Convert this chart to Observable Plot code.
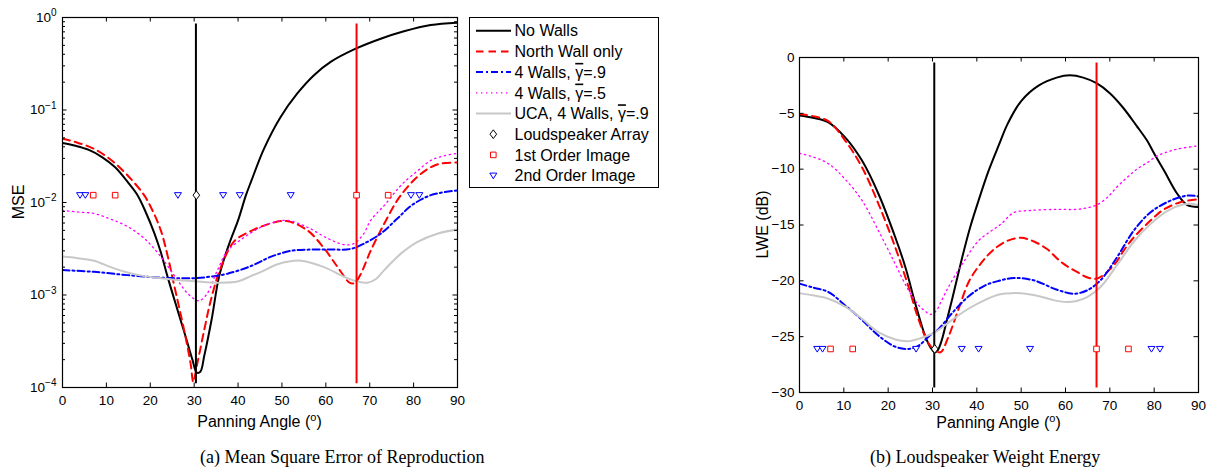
<!DOCTYPE html>
<html><head><meta charset="utf-8">
<script src="https://cdn.jsdelivr.net/npm/d3@7"></script>
<script src="https://cdn.jsdelivr.net/npm/@observablehq/plot@0.6"></script>
<style>
body{margin:0;background:#fff;}
#wrap{position:relative;width:1209px;height:468px;overflow:hidden;background:#fff;}
#wrap svg{position:absolute;max-width:none;}
</style></head><body><div id="wrap"></div>
<script>
// ---------- data ----------
const xTicks = [0,10,20,30,40,50,60,70,80,90];
const mseTicks = [1e-4,1e-3,1e-2,1e-1,1];
const lweTicks = [-30,-25,-20,-15,-10,-5,0];

// MSE panel (a)
const mseNoWallsAngle = [0,3,6,9,12,15,17.1,19,20.9,22.4,23.9,26.2,28.1,29.6,30.6,31.4,32.3,34,35.7,38,40,41.8,43,45.9,49.7,53.5,57.3,61.1,66.8,72.5,77.8,83.9,90];
const mseNoWalls = [0.044,0.041,0.037,0.031,0.024,0.0163,0.012,0.0078,0.0047,0.0029,0.0016,6.9e-4,3.5e-4,2.0e-4,1.45e-4,1.48e-4,2.2e-4,5.5e-4,1.6e-3,3.6e-3,6.4e-3,0.012,0.017,0.038,0.084,0.151,0.238,0.331,0.46,0.59,0.71,0.83,0.88];

const mseNorthAngle = [0,3,7.2,11,14.8,18.6,20.5,22.4,24,25.4,27.7,29.2,29.8,30.7,32.3,33.8,36.1,39.1,42.5,46.7,51,55.8,59.6,62.7,65.5,66.6,68,70.2,73.3,76.3,78.5,80.9,83.5,86.2,90];
const mseNorth = [0.049,0.045,0.038,0.029,0.0197,0.012,0.0082,0.005,0.0026,1.3e-3,4.2e-4,1.8e-4,1.15e-4,1.8e-4,4.2e-4,8.8e-4,2.0e-3,3.8e-3,4.8e-3,5.8e-3,6.3e-3,5.0e-3,3.2e-3,2.0e-3,1.35e-3,1.35e-3,1.7e-3,3.0e-3,5.9e-3,0.0106,0.0145,0.019,0.0235,0.0264,0.027];

const mseWalls9Angle = [0,7.2,14.8,22.4,30,33.8,37.6,42.9,47.4,52,56.5,61.1,65.7,68.7,72.5,76.3,79.4,83.9,90];
const mseWalls9 = [1.86e-3,1.78e-3,1.64e-3,1.54e-3,1.52e-3,1.58e-3,1.7e-3,2.05e-3,2.58e-3,3.0e-3,3.1e-3,3.1e-3,3.15e-3,3.6e-3,4.6e-3,6.7e-3,9.2e-3,0.012,0.0135];

const mseWalls5Angle = [0,3.5,7.2,11,14.8,18.6,22.4,26.2,28.5,30.7,31.5,33,35.3,37.6,41.4,45.2,48,51.3,55.8,60.4,64.2,66.4,68.5,70.2,72,73.5,75.5,77.5,80.9,83.9,87,90];
const mseWalls5 = [0.0082,0.0079,0.0076,0.0066,0.0055,0.0041,0.0026,1.45e-3,1.04e-3,8.7e-4,8.8e-4,1.04e-3,1.85e-3,3.0e-3,4.2e-3,5.4e-3,6.1e-3,6.4e-3,5.4e-3,4.1e-3,3.5e-3,3.6e-3,4.5e-3,6.4e-3,8.0e-3,0.0095,0.0125,0.016,0.022,0.0285,0.032,0.034];

const mseUcaAngle = [0,3.5,7.2,11,14.8,18.6,22.4,26,30,35.3,39.9,42.9,45.5,49,54.3,59.6,64.2,67.2,69.5,71.5,73.3,77.1,80.9,85.4,90];
const mseUca = [2.6e-3,2.5e-3,2.35e-3,2.0e-3,1.75e-3,1.6e-3,1.52e-3,1.45e-3,1.41e-3,1.36e-3,1.4e-3,1.6e-3,1.8e-3,2.15e-3,2.35e-3,2.0e-3,1.57e-3,1.4e-3,1.36e-3,1.5e-3,1.86e-3,2.8e-3,3.75e-3,4.6e-3,5.1e-3];

// LWE panel (b)
const lweNoWallsAngle = [0,3,6.5,10.3,14.1,17.8,21.6,23.9,26.1,28.4,29.6,30.5,31.2,32.1,33.2,34.4,36.7,38.5,40.4,42.6,44.9,47,50,54,58,61,64,67,70,73,76,78.4,80,82.2,85.2,87.4,90];
const lweNoWalls = [-5.2,-5.4,-5.8,-7.15,-9.23,-12.2,-16.1,-18.8,-22.0,-25.0,-26.0,-26.4,-26.2,-25.3,-23.6,-21.7,-17.9,-15.2,-12.8,-10.2,-7.9,-5.9,-3.9,-2.5,-1.8,-1.6,-1.8,-2.3,-3.2,-4.5,-6.1,-7.44,-8.6,-10.1,-12.2,-13.2,-13.4];

const lweNorthAngle = [0,3,6.5,10.3,14.1,17.8,21.6,24.6,26.9,29.1,30.5,31.8,33.6,35.9,38.3,41,43.8,47,50,53,56,58.1,60,62.6,65,67.1,69.4,71.5,73.1,75,77.6,80,82.2,85.9,90];
const lweNorth = [-5.06,-5.25,-5.7,-7.44,-9.83,-13.1,-17.0,-20.55,-23.5,-25.6,-26.2,-26.4,-25.0,-22.5,-20.0,-18.4,-17.2,-16.4,-16.15,-16.5,-17.2,-18.0,-18.6,-19.2,-19.7,-19.8,-19.2,-18.3,-17.3,-16.3,-15.2,-14.3,-13.6,-12.96,-12.7];

const lweWalls9Angle = [0,3,6.5,10.3,14.1,17.8,21.6,24.6,26.9,29.1,31.4,34.4,38.1,41.9,45,48.3,52.8,58.1,61.9,64.9,67.9,71.6,75.4,79.2,82.9,85.9,88,90];
const lweWalls9 = [-20.25,-20.6,-21.0,-22.2,-23.5,-24.9,-25.9,-26.1,-25.8,-25.0,-24.3,-22.9,-21.4,-20.4,-20.0,-19.75,-19.95,-20.8,-21.15,-20.85,-19.95,-17.9,-15.5,-13.85,-12.96,-12.5,-12.35,-12.45];

const lweWalls5Angle = [0,3,6.5,10.3,14.1,17.8,21.6,24.6,26.9,28,29.5,30.8,32,33.6,36.7,40.4,43,45.5,48.3,52.1,58.1,62.6,65,67.1,69.5,71.6,74,76.2,78.5,80.7,83,85.2,90];
const lweWalls5 = [-8.58,-8.9,-9.5,-10.9,-12.8,-15.5,-18.5,-20.85,-22.2,-22.6,-23.0,-22.7,-21.8,-20.55,-18.5,-16.4,-15.6,-14.9,-13.9,-13.7,-13.6,-13.6,-13.45,-13.2,-12.5,-11.6,-10.7,-9.97,-9.4,-8.8,-8.45,-8.2,-7.9];

const lweUcaAngle = [0,3,6.5,10.3,14.1,17.8,21.6,24.6,27.6,30.6,34.4,38.1,41.9,45.2,48.3,51,54.3,57.5,60.4,62.5,64.9,67.9,71.6,75.4,79.2,82.9,86.7,88.5,90];
const lweUca = [-21.1,-21.3,-21.6,-22.3,-23.4,-24.6,-25.25,-25.4,-25.1,-24.6,-23.5,-22.5,-21.7,-21.2,-21.1,-21.15,-21.4,-21.75,-21.9,-21.8,-21.45,-20.55,-18.6,-16.5,-14.9,-13.75,-13.15,-13.1,-13.25];

// sources / image positions
const arrayAngles = [30.5];
const firstOrderAngles = [7, 12, 67, 74.2];
const secondOrderAngles = [4, 5.2, 26.3, 36.6, 40.4, 52, 79.4, 81.3];
const markerMse = 0.012;
const markerLwe = -26.1;
const arrayLineAngle = [30.4];
const imageLineAngle = [67];
const vlineMse = [1.1e-4, 0.85];
const vlineLwe = [-29.6, -0.5];

const legendLabels = ["No Walls","North Wall only","4 Walls, γ=.9","4 Walls, γ=.5","UCA, 4 Walls, γ=.9","Loudspeaker Array","1st Order Image","2nd Order Image"];
const captionA = "(a) Mean Square Error of Reproduction";
const captionB = "(b) Loudspeaker Weight Energy";

// ---------- styles ----------
const FONT = "'Liberation Sans', Arial, Helvetica, sans-serif";
const lineStyles = [
  {stroke:"#000000", strokeWidth:2},
  {stroke:"#ff0000", strokeWidth:2, strokeDasharray:"7.5,5"},
  {stroke:"#0000ff", strokeWidth:2, strokeDasharray:"7,3,2,3"},
  {stroke:"#ff00ff", strokeWidth:1.3, strokeDasharray:"1.4,3.6"},
  {stroke:"#c8c8c8", strokeWidth:2}
];
const symTriDown = {draw(c,size){const s=Math.sqrt(size/Math.PI); c.moveTo(-s,-0.72*s); c.lineTo(s,-0.72*s); c.lineTo(0,0.9*s); c.closePath();}};
const symSquare = {draw(c,size){const s=Math.sqrt(size/Math.PI)*0.8; c.moveTo(-s,-s); c.lineTo(s,-s); c.lineTo(s,s); c.lineTo(-s,s); c.closePath();}};
const symDiamond = {draw(c,size){const s=Math.sqrt(size/Math.PI); c.moveTo(0,-1.25*s); c.lineTo(0.95*s,0); c.lineTo(0,1.25*s); c.lineTo(-0.95*s,0); c.closePath();}};
const markerStyles = [
  {symbol:symDiamond, stroke:"#000000"},
  {symbol:symSquare, stroke:"#ff0000"},
  {symbol:symTriDown, stroke:"#0000ff"}
];

const rows = (a, v) => a.map((x, i) => ({a: x, v: v[i]}));

function panel(o) {
  const innerW = o.width - o.mL - o.mR, innerH = o.height - o.mT - o.mB;
  const marks = [];
  o.series.forEach((s, i) => marks.push(Plot.line(rows(s[0], s[1]), {x:"a", y:"v", curve:"catmull-rom", clip:true, ...lineStyles[i]})));
  marks.push(Plot.ruleX(arrayLineAngle, {x:d=>d, y1:()=>o.vline[0], y2:()=>o.vline[1], stroke:"#000", strokeWidth:2}));
  marks.push(Plot.ruleX(imageLineAngle, {x:d=>d, y1:()=>o.vline[0], y2:()=>o.vline[1], stroke:"#ff0000", strokeWidth:2}));
  [arrayAngles, firstOrderAngles, secondOrderAngles].forEach((arr, i) => {
    marks.push(Plot.dot(arr, {x:d=>d, y:()=>o.markerY, r:3.5, fill:"white", strokeWidth:1, ...markerStyles[i]}));
  });
  // inward ticks on all four sides
  marks.push(Plot.tickX(xTicks, {x:d=>d, stroke:"black", insetTop: innerH - 4.5}));
  marks.push(Plot.tickX(xTicks, {x:d=>d, stroke:"black", insetBottom: innerH - 4.5}));
  marks.push(Plot.tickY(o.yTicks, {y:d=>d, stroke:"black", insetRight: innerW - 4.5}));
  marks.push(Plot.tickY(o.yTicks, {y:d=>d, stroke:"black", insetLeft: innerW - 4.5}));
  if (o.minor) {
    marks.push(Plot.tickY(o.minor, {y:d=>d, stroke:"black", insetRight: innerW - 3}));
    marks.push(Plot.tickY(o.minor, {y:d=>d, stroke:"black", insetLeft: innerW - 3}));
  }
  marks.push(Plot.frame({stroke:"black", strokeWidth:1.2}));
  marks.push(Plot.axisX({ticks:xTicks, tickSize:0, tickPadding:8, label:null, tickFormat:d=>String(d)}));
  marks.push(Plot.axisY({ticks:o.yTicks, tickSize:0, tickPadding:o.pad, label:null, tickFormat:o.fmt}));
  const chart = Plot.plot({
    width:o.width, height:o.height, marginLeft:o.mL, marginRight:o.mR, marginTop:o.mT, marginBottom:o.mB,
    x:{domain:[0,90]},
    y:o.y,
    style:{fontFamily:FONT, fontSize:"13.5px", color:"black", background:"transparent", overflow:"visible", left:o.left+"px", top:"0px", position:"absolute"},
    marks
  });
  const svg = d3.select(chart);
  // superscript exponents
  svg.selectAll("text").each(function() {
    const m = /^10\^(.+)$/.exec(this.textContent);
    if (m) { const t = d3.select(this); t.text("10"); t.append("tspan").attr("dy","-0.55em").attr("font-size","10px").text(m[1]); }
  });
  const xr = chart.scale("x").range, yr = chart.scale("y").range;
  const cx = (xr[0] + xr[1]) / 2, cy = (yr[0] + yr[1]) / 2;
  const xl = svg.append("text").attr("x", cx).attr("y", o.xLabelY).attr("text-anchor","middle")
    .attr("font-size","16px").attr("font-family",FONT).attr("fill","black");
  xl.append("tspan").text("Panning Angle (");
  xl.append("tspan").attr("dy",-6).attr("font-size","11px").text("o");
  xl.append("tspan").attr("dy",6).text(")");
  svg.append("text").attr("transform",`translate(${o.yLabelX},${cy}) rotate(-90)`).attr("text-anchor","middle")
    .attr("dy","0.35em").attr("font-size","16px").attr("font-family",FONT).attr("fill","black").text(o.ylabel);
  return chart;
}

const mseMinor = d3.range(-4, 0).flatMap(e => d3.range(2, 10).map(k => k * Math.pow(10, e)));
const wrap = document.getElementById("wrap");

wrap.appendChild(panel({
  left:0, width:470, height:440, mL:62, mR:13, mT:17, mB:53,
  y:{type:"log", domain:[1e-4, 1]},
  yTicks:mseTicks, minor:mseMinor, pad:6,
  fmt:d => "10^" + (Math.round(Math.log10(d)) < 0 ? "\u2212" + Math.abs(Math.round(Math.log10(d))) : String(Math.round(Math.log10(d)))),
  series:[[mseNoWallsAngle,mseNoWalls],[mseNorthAngle,mseNorth],[mseWalls9Angle,mseWalls9],[mseWalls5Angle,mseWalls5],[mseUcaAngle,mseUca]],
  markerY:markerMse, vline:vlineMse, xLabelY:427, yLabelX:18.5, ylabel:"MSE"
}));

wrap.appendChild(panel({
  left:740, width:469, height:440, mL:59, mR:11, mT:57, mB:48,
  y:{domain:[-30, 0]},
  yTicks:lweTicks, minor:null, pad:5,
  fmt:d => d < 0 ? "\u2212" + Math.abs(d) : String(d),
  series:[[lweNoWallsAngle,lweNoWalls],[lweNorthAngle,lweNorth],[lweWalls9Angle,lweWalls9],[lweWalls5Angle,lweWalls5],[lweUcaAngle,lweUca]],
  markerY:markerLwe, vline:vlineLwe, xLabelY:428, yLabelX:22, ylabel:"LWE (dB)"
}));

// ---------- legend + captions ----------
const ov = d3.create("svg").attr("width",1209).attr("height",468).style("left","0px").style("top","0px").style("position","absolute");
const lg = ov.append("g");
lg.append("rect").attr("x",469.5).attr("y",17.5).attr("width",189).attr("height",170).attr("fill","white").attr("stroke","black").attr("stroke-width",1);
legendLabels.forEach((lab, i) => {
  const yy = 30.7 + i * 20.7;
  if (i < 5) {
    const st = lineStyles[i];
    lg.append("line").attr("x1",476).attr("x2",511).attr("y1",yy).attr("y2",yy)
      .attr("stroke",st.stroke).attr("stroke-width",st.strokeWidth).attr("stroke-dasharray",st.strokeDasharray || null);
  } else {
    const ms = markerStyles[i - 5];
    lg.append("path").attr("transform",`translate(493.3,${yy})`).attr("d", d3.symbol(ms.symbol, Math.PI*3.5*3.5)())
      .attr("fill","white").attr("stroke",ms.stroke).attr("stroke-width",1);
  }
  const t = lg.append("text").attr("x",514.5).attr("y",yy).attr("dy","0.36em").attr("font-size","16px").attr("font-family",FONT).attr("fill","black");
  const parts = lab.split("γ");
  parts.forEach((p, j) => {
    if (j > 0) t.append("tspan").style("text-decoration","overline").text("γ");
    t.append("tspan").text(p);
  });
});
ov.append("text").attr("x",200).attr("y",463).attr("font-size","18px").attr("font-family","'Liberation Serif', 'Times New Roman', serif").attr("fill","black").text(captionA);
ov.append("text").attr("x",870).attr("y",463).attr("font-size","18px").attr("font-family","'Liberation Serif', 'Times New Roman', serif").attr("fill","black").text(captionB);
wrap.appendChild(ov.node());
</script></body></html>
